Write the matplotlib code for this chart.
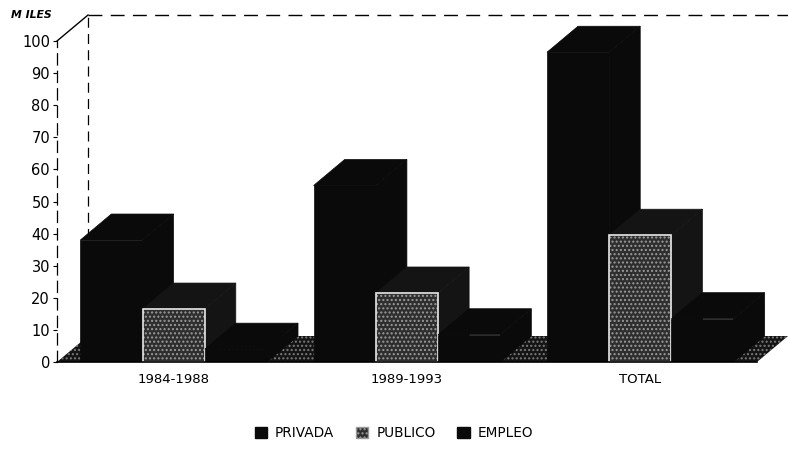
import numpy as np
import matplotlib
matplotlib.use('Agg')
import matplotlib.pyplot as plt
from matplotlib.patches import Polygon, Patch

# Values in thousands (MILES)
periods = ['1984-1988', '1989-1993', 'TOTAL']
series = ['PRIVADA', 'PUBLICO', 'EMPLEO']
privada = [38, 55, 96.5]
publico = [16.5, 21.5, 39.5]
empleo = [4, 8.5, 13.5]
yticks = list(range(0, 101, 10))

# oblique depth of the 3D effect, in data units
DX = 0.133
DY = 8.1
group_w = 0.8
bar_w = group_w / 3
DARK = '#0a0a0a'

fig = plt.figure(figsize=(7.88, 4.59), dpi=100)
ax = fig.add_axes([57 / 788, 97 / 459, 731 / 788, 347 / 459])
ax.set_xlim(0, 3 + DX)
ax.set_ylim(0, 100 + DY)

# floor
floor = Polygon([(0, 0), (3, 0), (3 + DX, DY), (DX, DY)], closed=True,
                facecolor='#141414', edgecolor='#7a7a7a', hatch='....',
                linewidth=0, zorder=1)
ax.add_patch(floor)

# back walls
ax.plot([DX, DX], [DY, 100 + DY], color='black', lw=0.9, ls=(0, (8, 5)),
        zorder=0.5, clip_on=False)
ax.plot([DX, 3 + DX], [100 + DY, 100 + DY], color='black', lw=1.0,
        ls=(0, (10, 6)), zorder=0.5, clip_on=False)
ax.plot([0, DX], [100, 100 + DY], color='black', lw=1.0, clip_on=False)


def draw_bar(x0, v, z, front_light=False):
    # side face, top face, then front face
    shade = '#141414' if front_light else DARK
    side = Polygon([(x0 + bar_w, 0), (x0 + bar_w + DX, DY),
                    (x0 + bar_w + DX, v + DY), (x0 + bar_w, v)],
                   closed=True, facecolor=shade, edgecolor=shade,
                   lw=0.5, zorder=z)
    top = Polygon([(x0, v), (x0 + bar_w, v), (x0 + bar_w + DX, v + DY),
                   (x0 + DX, v + DY)],
                  closed=True, facecolor=shade, edgecolor=shade,
                  lw=0.5, zorder=z)
    ax.add_patch(side)
    ax.add_patch(top)
    if front_light:
        ax.bar(x0, v, width=bar_w, align='edge', color='#2e2e2e',
               edgecolor='#9a9a9a', hatch='....', linewidth=0, zorder=z + 0.01)
        ax.bar(x0, v, width=bar_w, align='edge', fill=False,
               edgecolor='#e8e8e8', linewidth=1.2, zorder=z + 0.02)
    else:
        ax.bar(x0, v, width=bar_w, align='edge', color=DARK,
               edgecolor=DARK, linewidth=0.5, zorder=z + 0.01)


data = [privada, publico, empleo]
z = 2
for j in range(len(periods)):
    for i in range(len(series)):
        x0 = j + (1 - group_w) / 2 + i * bar_w
        draw_bar(x0, data[i][j], z, front_light=(i == 1))
        z += 0.1

# axes styling
for s in ['top', 'right']:
    ax.spines[s].set_visible(False)
ax.spines['left'].set_bounds(0, 100)
ax.spines['left'].set_linestyle((0, (9, 5)))
ax.spines['left'].set_linewidth(0.9)
ax.spines['bottom'].set_bounds(0, 3)
ax.spines['bottom'].set_linewidth(1.2)
ax.spines['bottom'].set_zorder(10)

ax.set_yticks(yticks)
ax.set_yticklabels([str(t) for t in yticks], fontsize=10.5)
ax.tick_params(axis='y', length=3, width=0.8, pad=2)
ax.set_xticks([0.5, 1.5, 2.5])
ax.set_xticklabels(periods, fontsize=9.5)
ax.tick_params(axis='x', length=0, pad=8)

fig.text(31 / 788, 1 - 15 / 459, 'M ILES', fontsize=7.8, fontweight='bold',
         fontstyle='italic', ha='center', va='center')

handles = [Patch(facecolor=DARK, edgecolor=DARK),
           Patch(facecolor='#2e2e2e', edgecolor='#9a9a9a', hatch='....'),
           Patch(facecolor=DARK, edgecolor=DARK)]
fig.legend(handles, series, loc='center', bbox_to_anchor=(0.5, 1 - 433 / 459),
           ncol=3, frameon=False, fontsize=9.8, handlelength=0.9,
           handleheight=0.9, handletextpad=0.6, columnspacing=1.6)

fig.savefig('out.png', dpi=100)
